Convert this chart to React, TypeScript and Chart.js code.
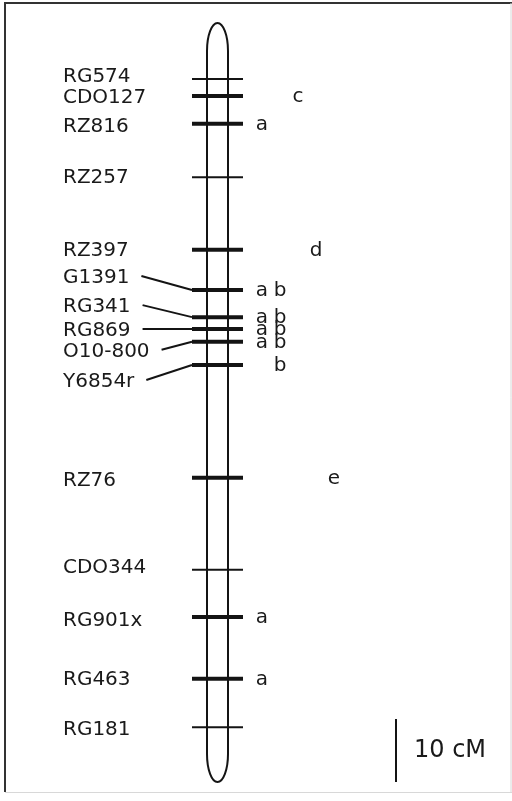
import React, { useEffect, useRef } from "react";
import { Chart, registerables } from "chart.js";
Chart.register(...registerables);

// ---- data ----
const markers = ["RG574", "CDO127", "RZ816", "RZ257", "RZ397", "G1391", "RG341", "RG869", "O10-800", "Y6854r", "RZ76", "CDO344", "RG901x", "RG463", "RG181"];
const positionsCM = [0, 2.7, 7.1, 15.6, 27.1, 33.5, 37.8, 39.7, 41.7, 45.4, 63.3, 77.9, 85.4, 95.2, 102.9];
const traitGroups = ["", "c", "a", "", "d", "a b", "a b", "a b", "a b", "b", "e", "", "a", "a", ""];
const chromosomeSpanCM = [-8.9, 111.6];
const scaleBarCM = 10;
const scaleBarLabel = "10 cM";

// ---- layout / style ----
const W = 512;
const H = 801;
const PX_PER_CM = 6.3;
const ZERO_Y = 79;
const CHROM_X = 217.5;
const CHROM_HALF = 10.5;
const TICK_HALF = 25.5;
const LABEL_X = 63;
const LETTER_X0 = 262;
const LETTER_STEP = 18;
const FONT = '"DejaVu Sans", sans-serif';
const INK = "#141414";
// label vertical nudges (px) for readability of crowded labels
const labelNudge: Record<string, number> = {
  RG574: -2, CDO127: 2, RZ816: 3, G1391: -12, RG341: -10, RG869: 2, "O10-800": 10, Y6854r: 17,
  RZ76: 3, CDO344: -2, RG901x: 4, RG181: 3,
};
const connected = new Set(["G1391", "RG341", "RG869", "O10-800", "Y6854r"]);

const mapPlugin = {
  id: "linkageMap",
  beforeDatasetsDraw(chart: any) {
    const ctx = chart.ctx as CanvasRenderingContext2D;
    const xs = chart.scales.x;
    const ys = chart.scales.y;
    ctx.save();
    // frame
    ctx.strokeStyle = "#333";
    ctx.lineWidth = 2;
    ctx.beginPath();
    ctx.moveTo(5, 792);
    ctx.lineTo(5, 3);
    ctx.lineTo(512, 3);
    ctx.stroke();
    ctx.strokeStyle = "#d8d8d8";
    ctx.lineWidth = 1;
    ctx.beginPath();
    ctx.moveTo(511, 3);
    ctx.lineTo(511, 792);
    ctx.moveTo(5, 792.5);
    ctx.lineTo(512, 792.5);
    ctx.stroke();

    // chromosome
    const cx = xs.getPixelForValue(CHROM_X);
    const top = ys.getPixelForValue(chromosomeSpanCM[0]);
    const bot = ys.getPixelForValue(chromosomeSpanCM[1]);
    const capH = 28;
    ctx.strokeStyle = INK;
    ctx.lineWidth = 2;
    ctx.beginPath();
    ctx.ellipse(cx, top + capH, CHROM_HALF, capH, 0, Math.PI, 2 * Math.PI);
    ctx.lineTo(cx + CHROM_HALF, bot - capH);
    ctx.ellipse(cx, bot - capH, CHROM_HALF, capH, 0, 0, Math.PI);
    ctx.closePath();
    ctx.stroke();
    ctx.restore();
  },
  afterDatasetsDraw(chart: any) {
    const ctx = chart.ctx as CanvasRenderingContext2D;
    const xs = chart.scales.x;
    const ys = chart.scales.y;
    ctx.save();
    ctx.fillStyle = "#1a1a1a";
    ctx.strokeStyle = INK;
    ctx.textBaseline = "middle";
    ctx.font = `20px ${FONT}`;
    markers.forEach((m, i) => {
      const y = ys.getPixelForValue(positionsCM[i]);
      const ly = y + (labelNudge[m] ?? 1);
      ctx.textAlign = "left";
      ctx.fillText(m, LABEL_X, ly);
      if (connected.has(m)) {
        const w = ctx.measureText(m).width;
        ctx.lineWidth = 2;
        ctx.beginPath();
        ctx.moveTo(LABEL_X + w + 12, ly - 2);
        ctx.lineTo(xs.getPixelForValue(CHROM_X - TICK_HALF), y);
        ctx.stroke();
      }
      const letters = traitGroups[i].split(" ").filter((s) => s);
      letters.forEach((l) => {
        const col = l.charCodeAt(0) - 97;
        ctx.textAlign = "center";
        ctx.fillText(l, LETTER_X0 + col * LETTER_STEP, y + 1);
      });
    });
    // scale bar
    const sx = 396;
    const sb = ys.getPixelForValue(chromosomeSpanCM[1]);
    const st = ys.getPixelForValue(chromosomeSpanCM[1] - scaleBarCM);
    ctx.lineWidth = 2;
    ctx.beginPath();
    ctx.moveTo(sx, st);
    ctx.lineTo(sx, sb);
    ctx.stroke();
    ctx.font = `24px ${FONT}`;
    ctx.textAlign = "left";
    ctx.fillText(scaleBarLabel, 414, (st + sb) / 2);
    ctx.restore();
  },
};

export default function App() {
  const ref = useRef<HTMLCanvasElement | null>(null);
  useEffect(() => {
    if (!ref.current) return;
    const chart = new Chart(ref.current, {
      type: "scatter",
      data: {
        datasets: [
          {
            data: positionsCM.map((p) => ({ x: CHROM_X, y: p })),
            pointStyle: "line",
            pointRadius: TICK_HALF,
            pointHoverRadius: TICK_HALF,
            borderColor: INK,
            backgroundColor: INK,
            pointBorderWidth: (c: any) => (traitGroups[c.dataIndex] ? 4 : 2),
            pointHoverBorderWidth: (c: any) => (traitGroups[c.dataIndex] ? 4 : 2),
            clip: false,
          } as any,
        ],
      },
      options: {
        animation: false,
        responsive: false,
        events: [],
        layout: { padding: 0, autoPadding: false },
        plugins: { legend: { display: false }, tooltip: { enabled: false }, title: { display: false } },
        scales: {
          x: { type: "linear", min: 0, max: W, display: false },
          y: {
            type: "linear",
            reverse: true,
            min: -ZERO_Y / PX_PER_CM,
            max: (H - ZERO_Y) / PX_PER_CM,
            display: false,
          },
        },
      },
      plugins: [mapPlugin],
    });
    return () => chart.destroy();
  }, []);
  return (
    <div style={{ position: "absolute", left: 0, top: 0, width: W, height: H, background: "#fff" }}>
      <canvas ref={ref} width={W} height={H} style={{ display: "block" }} />
    </div>
  );
}
